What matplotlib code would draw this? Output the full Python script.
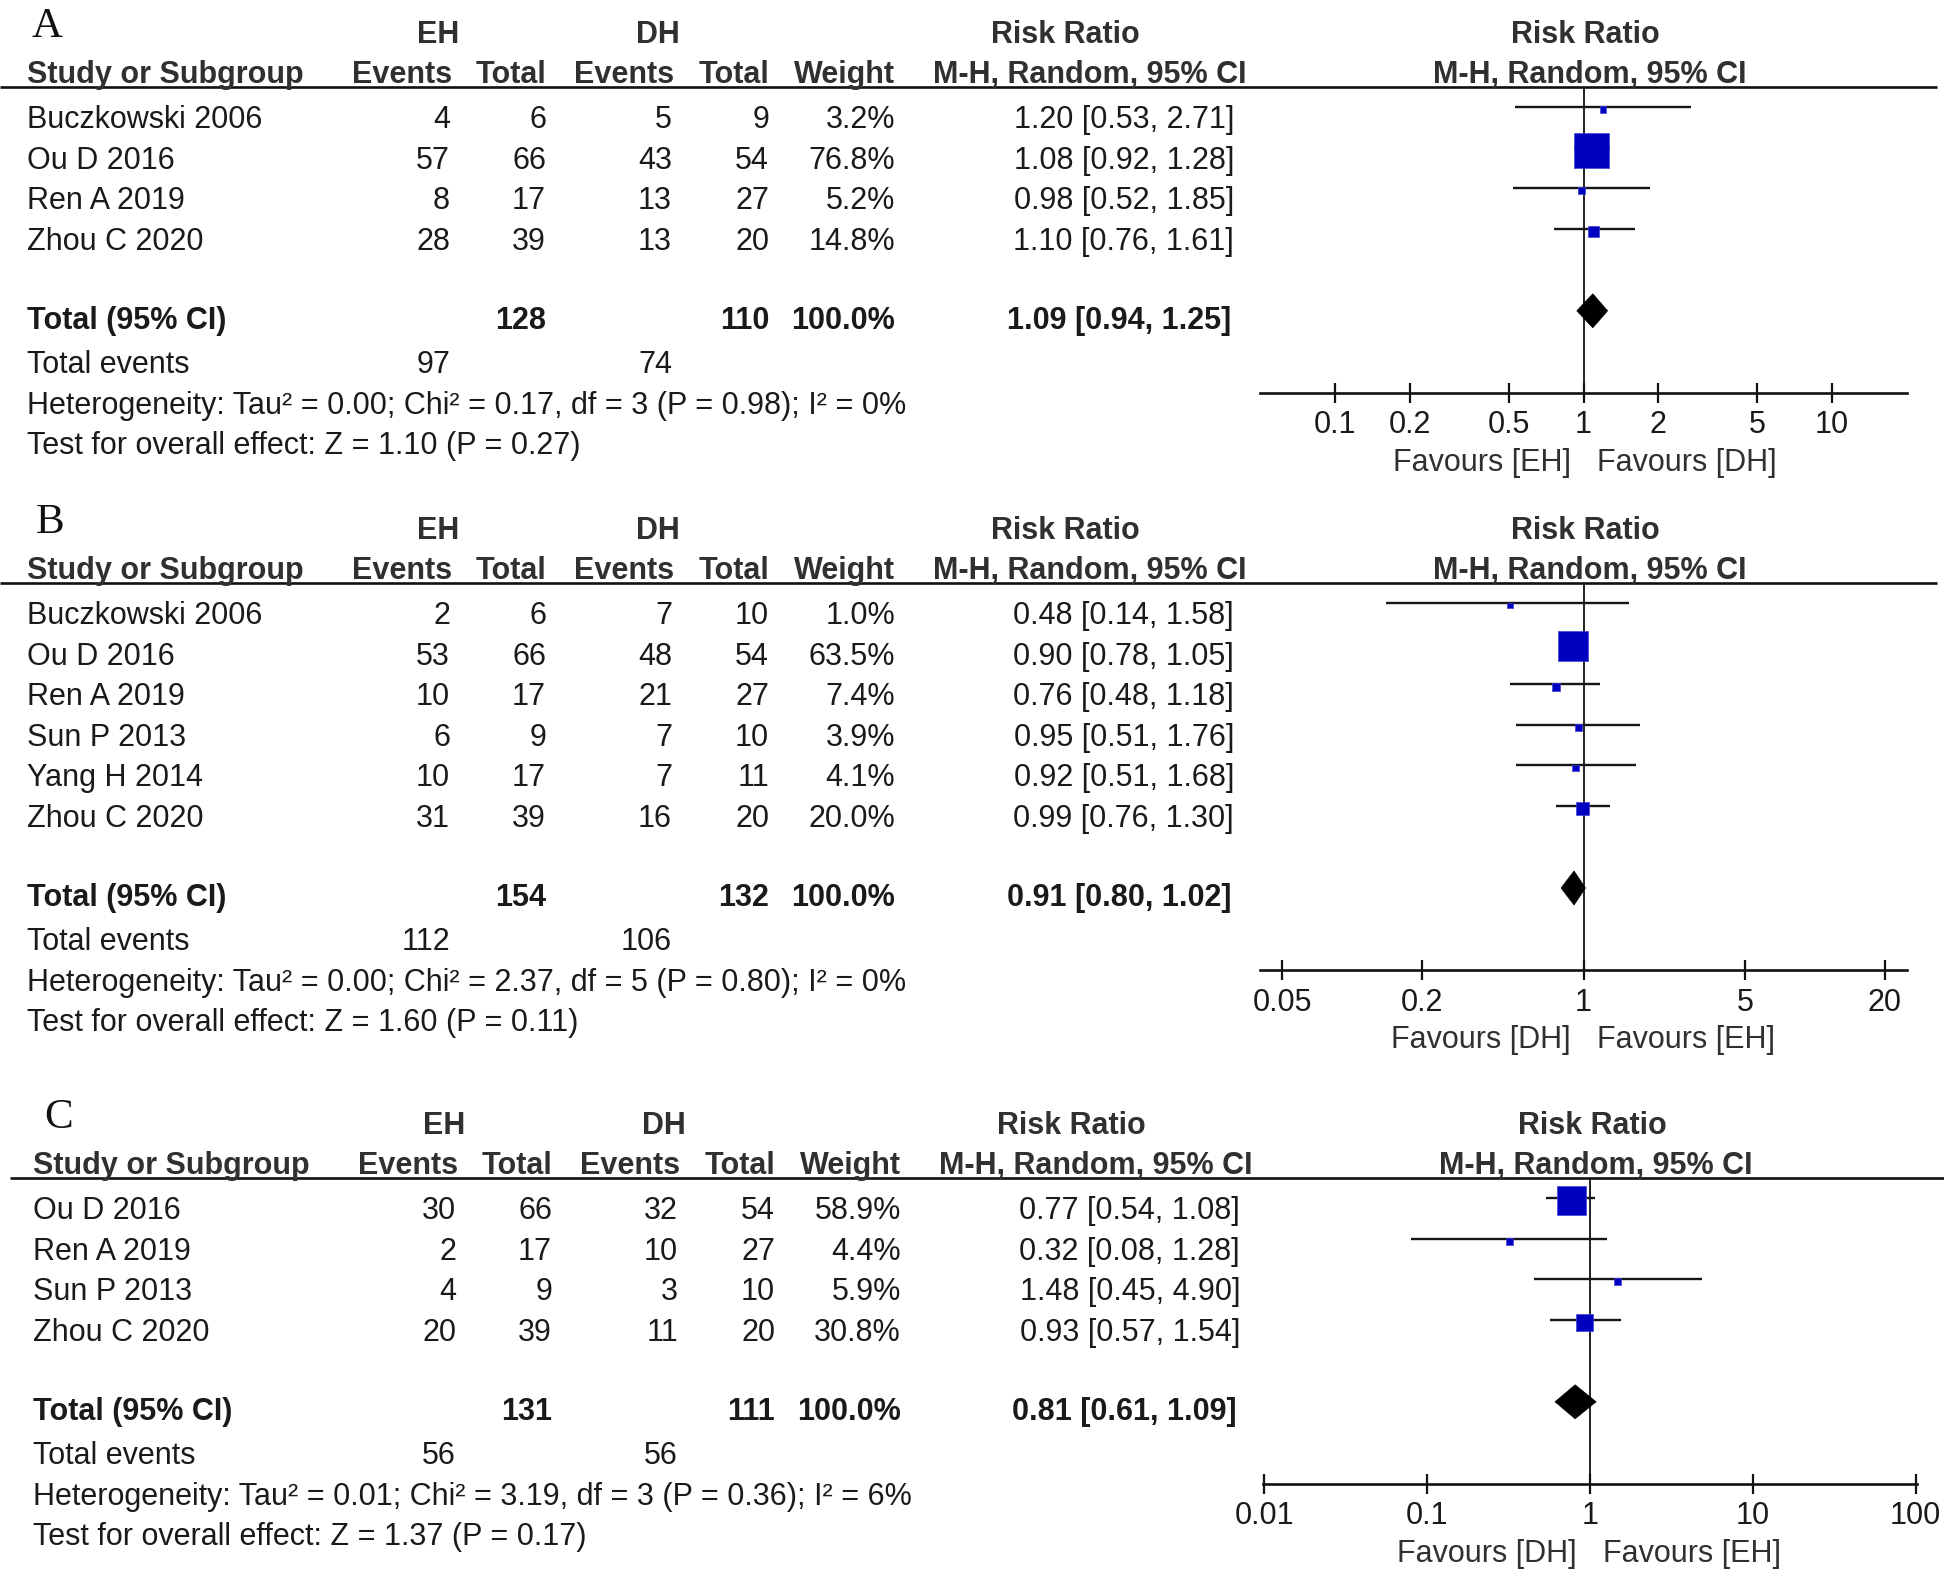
import matplotlib
matplotlib.use("Agg")
import matplotlib.pyplot as plt
from matplotlib.patches import Polygon

# ---------------- data ----------------
# Panel A
studies_A = ["Buczkowski 2006", "Ou D 2016", "Ren A 2019", "Zhou C 2020"]
eh_events_A = [4, 57, 8, 28]
eh_total_A = [6, 66, 17, 39]
dh_events_A = [5, 43, 13, 13]
dh_total_A = [9, 54, 27, 20]
weight_A = [3.2, 76.8, 5.2, 14.8]
rr_A = [1.20, 1.08, 0.98, 1.10]
lo_A = [0.53, 0.92, 0.52, 0.76]
hi_A = [2.71, 1.28, 1.85, 1.61]
total_A = [128, 110]
pooled_A = [1.09, 0.94, 1.25]
events_A = [97, 74]
het_A = ["0.00", "0.17", 3, "0.98", "0%"]
test_A = ["1.10", "0.27"]
ticks_A = [0.1, 0.2, 0.5, 1, 2, 5, 10]
ticklabels_A = ["0.1", "0.2", "0.5", "1", "2", "5", "10"]
favours_A = ["Favours [EH]", "Favours [DH]"]

# Panel B
studies_B = ["Buczkowski 2006", "Ou D 2016", "Ren A 2019", "Sun P 2013", "Yang H 2014", "Zhou C 2020"]
eh_events_B = [2, 53, 10, 6, 10, 31]
eh_total_B = [6, 66, 17, 9, 17, 39]
dh_events_B = [7, 48, 21, 7, 7, 16]
dh_total_B = [10, 54, 27, 10, 11, 20]
weight_B = [1.0, 63.5, 7.4, 3.9, 4.1, 20.0]
rr_B = [0.48, 0.90, 0.76, 0.95, 0.92, 0.99]
lo_B = [0.14, 0.78, 0.48, 0.51, 0.51, 0.76]
hi_B = [1.58, 1.05, 1.18, 1.76, 1.68, 1.30]
total_B = [154, 132]
pooled_B = [0.91, 0.80, 1.02]
events_B = [112, 106]
het_B = ["0.00", "2.37", 5, "0.80", "0%"]
test_B = ["1.60", "0.11"]
ticks_B = [0.05, 0.2, 1, 5, 20]
ticklabels_B = ["0.05", "0.2", "1", "5", "20"]
favours_B = ["Favours [DH]", "Favours [EH]"]

# Panel C
studies_C = ["Ou D 2016", "Ren A 2019", "Sun P 2013", "Zhou C 2020"]
eh_events_C = [30, 2, 4, 20]
eh_total_C = [66, 17, 9, 39]
dh_events_C = [32, 10, 3, 11]
dh_total_C = [54, 27, 10, 20]
weight_C = [58.9, 4.4, 5.9, 30.8]
rr_C = [0.77, 0.32, 1.48, 0.93]
lo_C = [0.54, 0.08, 0.45, 0.57]
hi_C = [1.08, 1.28, 4.90, 1.54]
total_C = [131, 111]
pooled_C = [0.81, 0.61, 1.09]
events_C = [56, 56]
het_C = ["0.01", "3.19", 3, "0.36", "6%"]
test_C = ["1.37", "0.17"]
ticks_C = [0.01, 0.1, 1, 10, 100]
ticklabels_C = ["0.01", "0.1", "1", "10", "100"]
favours_C = ["Favours [DH]", "Favours [EH]"]

# ---------------- figure ----------------
W, H = 1944, 1569
DPI = 100
PT = 72.0 / DPI  # points per pixel

fig = plt.figure(figsize=(W / DPI, H / DPI), dpi=DPI)
canvas = fig.add_axes([0, 0, 1, 1])
canvas.set_xlim(0, W)
canvas.set_ylim(H, 0)
canvas.axis("off")

SANS = "Liberation Sans"
SERIF = "Liberation Serif"
FS = 22
TXT = "#1a1a1a"
HDR = "#303030"
BLUE = "#0000C0"


def txt(x, y, s, ha="left", bold=False, color=TXT, size=FS, family=SANS):
    canvas.text(x, y, s, ha=ha, va="baseline", fontsize=size, family=family,
                fontweight="bold" if bold else "normal", color=color)


def panel(letter, H0, dx, letter_x, line_span, forest_span, xlim,
          studies, ee, et, de, dt, wt, rr, lo, hi, totals, pooled, events,
          het, test, ticks, ticklabels, favours):
    # column anchors (pixels)
    name_x = 27 + dx
    c_ee, c_et, c_de, c_dt, c_w, c_ci = [v + dx for v in (450, 546, 672, 769, 895, 1234)]
    hl_y = H0 + 4
    rows = [H0 + 45 + 40.6 * i for i in range(len(studies))]
    y_tot = rows[-1] + 79
    y_ev = y_tot + 44
    y_het = y_ev + 41
    y_test = y_het + 40
    axis_y = y_tot + 64

    # panel letter and group labels
    txt(letter_x, H0 - 46, letter, ha="center", size=31, family=SERIF, color="#111111")
    txt(438 + dx, H0 - 40, "EH", ha="center", bold=True, color=HDR)
    txt(658 + dx, H0 - 40, "DH", ha="center", bold=True, color=HDR)
    txt(1065 + dx, H0 - 40, "Risk Ratio", ha="center", bold=True, color=HDR)
    fcx = (forest_span[0] + forest_span[1]) / 2.0
    txt(fcx + 2, H0 - 40, "Risk Ratio", ha="center", bold=True, color=HDR)

    # header row
    txt(name_x, H0, "Study or Subgroup", bold=True, color=HDR)
    for x, s in zip((c_ee + 2, c_et, c_de + 2, c_dt, c_w, c_ci + 12),
                    ("Events", "Total", "Events", "Total", "Weight", "M-H, Random, 95% CI")):
        txt(x, H0, s, ha="right", bold=True, color=HDR)
    txt(fcx + 6, H0, "M-H, Random, 95% CI", ha="center", bold=True, color=HDR)
    canvas.plot(line_span, [hl_y, hl_y], color="#111111", lw=1.9, solid_capstyle="butt")

    # study rows
    for i, y in enumerate(rows):
        txt(name_x, y, studies[i])
        txt(c_ee, y, str(ee[i]), ha="right")
        txt(c_et, y, str(et[i]), ha="right")
        txt(c_de, y, str(de[i]), ha="right")
        txt(c_dt, y, str(dt[i]), ha="right")
        txt(c_w, y, f"{wt[i]:.1f}%", ha="right")
        txt(c_ci, y, f"{rr[i]:.2f} [{lo[i]:.2f}, {hi[i]:.2f}]", ha="right")

    # totals
    txt(name_x, y_tot, "Total (95% CI)", bold=True)
    txt(c_et, y_tot, str(totals[0]), ha="right", bold=True)
    txt(c_dt, y_tot, str(totals[1]), ha="right", bold=True)
    txt(c_w, y_tot, "100.0%", ha="right", bold=True)
    txt(c_ci - 3, y_tot, f"{pooled[0]:.2f} [{pooled[1]:.2f}, {pooled[2]:.2f}]", ha="right", bold=True)
    txt(name_x, y_ev, "Total events")
    txt(c_ee, y_ev, str(events[0]), ha="right")
    txt(c_de, y_ev, str(events[1]), ha="right")
    txt(name_x, y_het,
        f"Heterogeneity: Tau\u00b2 = {het[0]}; Chi\u00b2 = {het[1]}, df = {het[2]} "
        f"(P = {het[3]}); I\u00b2 = {het[4]}")
    txt(name_x, y_test, f"Test for overall effect: Z = {test[0]} (P = {test[1]})")

    # forest plot axes (y in page pixels)
    x0, x1 = forest_span
    ax = fig.add_axes([x0 / W, 1 - axis_y / H, (x1 - x0) / W, (axis_y - hl_y) / H])
    ax.set_xscale("log")
    ax.set_xlim(*xlim)
    ax.set_ylim(axis_y, hl_y)
    ax.patch.set_alpha(0)
    for side in ("top", "left", "right"):
        ax.spines[side].set_visible(False)
    ax.spines["bottom"].set_linewidth(1.9)
    ax.spines["bottom"].set_color("#111111")
    ax.set_yticks([])
    ax.set_xticks(ticks)
    ax.set_xticklabels(ticklabels, fontsize=FS, family=SANS, color=TXT)
    ax.minorticks_off()
    ax.tick_params(axis="x", which="major", direction="inout", length=20 * PT,
                   width=1.6, pad=5.5, color="#111111")

    ax.plot([1, 1], [axis_y, hl_y], color="#111111", lw=1.3, zorder=1)
    line_y = [y - 21 for y in rows]
    ax.hlines(line_y, lo, hi, color="#161616", lw=1.7, zorder=2)
    sizes = [((5.2 + 0.39 * w) * PT) ** 2 for w in wt]
    ax.scatter(rr, [y + 2.5 for y in line_y], s=sizes, marker="s", color=BLUE,
               edgecolors="#4040d8", linewidths=0.5, zorder=3)
    yc = y_tot - 18
    dia = Polygon([(pooled[1], yc), (pooled[0], yc - 17), (pooled[2], yc), (pooled[0], yc + 17)],
                  closed=True, facecolor="black", edgecolor="black", lw=0.5, zorder=3)
    ax.add_patch(dia)

    # favours labels
    ax.annotate(favours[0], xy=(1, axis_y + 78), xycoords="data", xytext=(-13 * PT, 0),
                textcoords="offset points", ha="right", va="baseline", fontsize=FS,
                family=SANS, color=HDR, annotation_clip=False)
    ax.annotate(favours[1], xy=(1, axis_y + 78), xycoords="data", xytext=(13 * PT, 0),
                textcoords="offset points", ha="left", va="baseline", fontsize=FS,
                family=SANS, color=HDR, annotation_clip=False)


panel("A", 83, 0, 47, [0, 1937], (1260, 1907), (0.05, 20),
      studies_A, eh_events_A, eh_total_A, dh_events_A, dh_total_A, weight_A,
      rr_A, lo_A, hi_A, total_A, pooled_A, events_A, het_A, test_A,
      ticks_A, ticklabels_A, favours_A)

panel("B", 579, 0, 50, [0, 1937], (1260, 1907), (0.04, 25),
      studies_B, eh_events_B, eh_total_B, dh_events_B, dh_total_B, weight_B,
      rr_B, lo_B, hi_B, total_B, pooled_B, events_B, het_B, test_B,
      ticks_B, ticklabels_B, favours_B)

panel("C", 1174, 6, 59, [10, 1944], (1263, 1917), (0.0098, 102),
      studies_C, eh_events_C, eh_total_C, dh_events_C, dh_total_C, weight_C,
      rr_C, lo_C, hi_C, total_C, pooled_C, events_C, het_C, test_C,
      ticks_C, ticklabels_C, favours_C)

fig.savefig("out.png", dpi=DPI, facecolor="white")
